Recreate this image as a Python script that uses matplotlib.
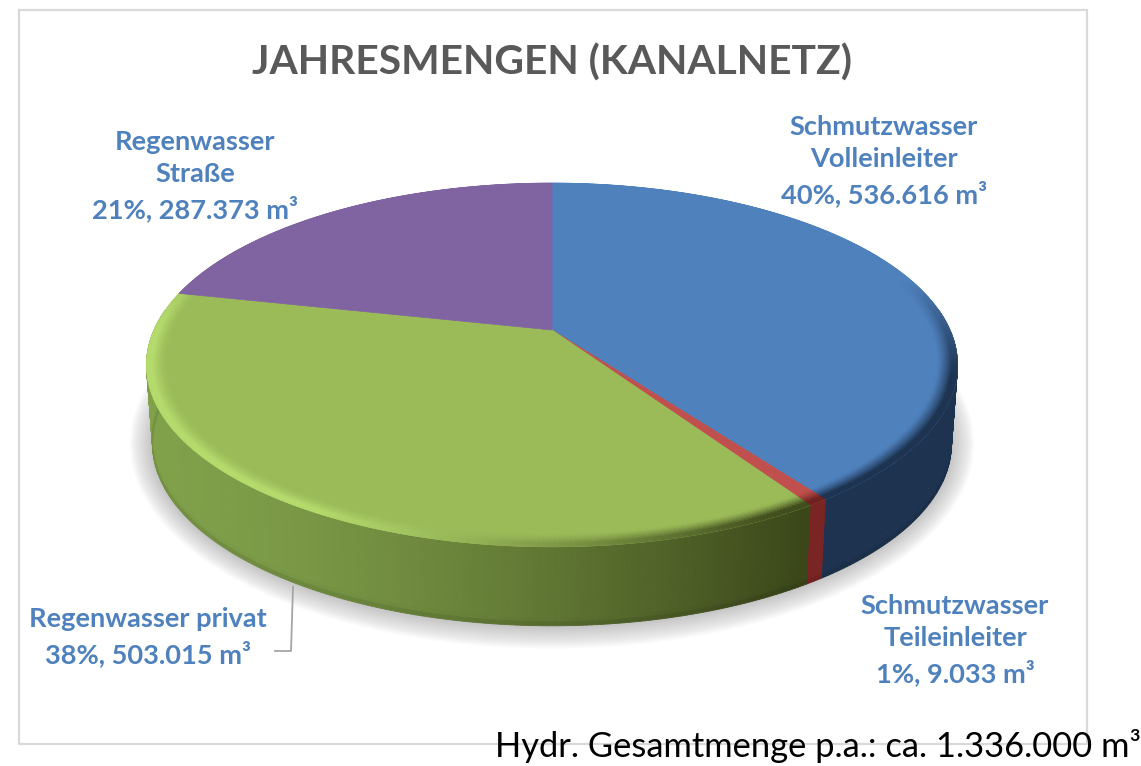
import numpy as np
import matplotlib
matplotlib.use("Agg")
import matplotlib.pyplot as plt
from matplotlib.collections import PolyCollection
from matplotlib.colors import to_rgb

title = "JAHRESMENGEN (KANALNETZ)"
categories = ["Schmutzwasser\nVolleinleiter", "Schmutzwasser\nTeileinleiter", "Regenwasser privat", "Regenwasser\nStraße"]
values = [536616, 9033, 503015, 287373]
value_labels = ["536.616", "9.033", "503.015", "287.373"]
percent_labels = ["40%", "1%", "38%", "21%"]
footer = "Hydr. Gesamtmenge p.a.: ca. 1.336.000 m³"

face_colors = ["#4f81bd", "#c0504d", "#9bbb59", "#8064a2"]
rim_left = ["#1d3350", "#6e2220", "#b6dc6e", "#8064a2"]
rim_right = ["#1d3350", "#6e2220", "#3f4c1c", "#8064a2"]
wall_left = ["#1d3350", "#8a2a28", "#80a04a", "#4a3a60"]
wall_right = ["#1d3350", "#7a2523", "#3b4719", "#4a3a60"]
label_color = "#4f81bd"
font = "Lato"

W, H = 1141, 766
fig = plt.figure(figsize=(W / 100, H / 100), dpi=100, facecolor="white")
ax = fig.add_axes([0, 0, 1, 1])
ax.set_xlim(0, W)
ax.set_ylim(H, 0)
ax.axis("off")

# perspective projection of the pie disc
CX, CY, K, A, C = 552.0, 330.0, 398.0, -111.8, 0.192
DEPTH, SHRINK = 79.0, 0.985


def top(r, th):
    u, v = r * np.sin(th), r * np.cos(th)
    w = 1 + C * v
    return CX + K * u / w, (A * v + CY) / w


def low(r, th, t=1.0):
    x, y = top(r, th)
    return CX + (x - CX) * (1 - (1 - SHRINK) * t), y + DEPTH * t


def mix(a, b, t):
    a, b = np.array(to_rgb(a)), np.array(to_rgb(b))
    return tuple(a + (b - a) * np.clip(t, 0, 1))


shares = np.array(values) / np.sum(values)
edges = np.concatenate([[0], np.cumsum(shares)]) * 2 * np.pi

# frame
ax.plot([18.5, 1087, 1087, 18.5, 18.5], [10, 10, 744, 744, 10], color="#d9d9d9", lw=1.6, zorder=1)

# soft shadow
ths = np.linspace(0, 2 * np.pi, 361)
for s in np.linspace(24, 1, 18):
    x, y = low(1.0, ths)
    px = CX + (x - CX) * (1 + s / 420)
    py = 365 + DEPTH + (y - 365 - DEPTH) * (1 + s / 190)
    ax.fill(px, py, color="#808080", alpha=0.026, lw=0, zorder=2)

# side wall
for i in range(len(values)):
    th = np.linspace(edges[i], edges[i + 1], max(3, int((edges[i + 1] - edges[i]) * 90)))
    polys, cols = [], []
    rows = np.linspace(0, 1, 21)
    for a, b in zip(th[:-1], th[1:]):
        xm = top(1.0, (a + b) / 2)[0]
        if np.cos((a + b) / 2) > 0.12:
            continue
        base = mix(wall_left[i], wall_right[i], ((xm - 160) / 640) ** 1.5 if xm > 160 else 0)
        for t0, t1 in zip(rows[:-1], rows[1:]):
            polys.append([low(1.0, a, t0), low(1.0, b, t0), low(1.0, b, t1), low(1.0, a, t1)])
            f = 0.90 + 0.10 * min(1, (1 - t1) / 0.06)
            cols.append(tuple(np.array(base) * f))
    ax.add_collection(PolyCollection(polys, facecolors=cols, edgecolors=cols, linewidths=0.6, zorder=3))

# top face
for i in range(len(values)):
    th = np.linspace(edges[i], edges[i + 1], max(3, int((edges[i + 1] - edges[i]) * 90)))
    x, y = top(1.0, th)
    ax.fill(np.r_[CX, x], np.r_[CY, y], color=face_colors[i], lw=0.5, zorder=4)
    # bevel along the rim
    radii = np.linspace(1.0, 0.95, 16)
    polys, cols = [], []
    for a, b in zip(th[:-1], th[1:]):
        m = (a + b) / 2
        xm = top(1.0, m)[0]
        limit = 0.55 if xm < CX else 0.30
        front = np.clip((limit - np.cos(m)) / 0.55, 0, 1)
        rim = mix(rim_left[i], rim_right[i], ((xm - 300) / 480) ** 1.2 if xm > 300 else 0)
        for r0, r1 in zip(radii[:-1], radii[1:]):
            rm = (r0 + r1) / 2
            f = np.clip((rm - 0.95) / 0.035, 0, 1) ** 1.3 * front
            polys.append([top(r0, a), top(r0, b), top(r1, b), top(r1, a)])
            cols.append(mix(face_colors[i], rim, f))
    ax.add_collection(PolyCollection(polys, facecolors=cols, edgecolors=cols, linewidths=0.4, zorder=5))

# leader line
ax.plot([293, 291, 275], [587, 651, 651], color="#a6a6a6", lw=1.3, zorder=6)

# labels
label_pos = [(884, 161), (955, 640), (148, 637), (195, 176)]
for name, pct, val, (lx, ly) in zip(categories, percent_labels, value_labels, label_pos):
    ax.text(lx, ly, f"{name}\n{pct}, {val} m³", ha="center", va="center", color=label_color,
            fontsize=19.6, fontweight="bold", family=font, linespacing=1.42, zorder=7)

ax.text(552, 63, title, ha="center", va="center", color="#595959", fontsize=29.3,
        fontweight="bold", family=font, zorder=7)
ax.text(495, 746, footer, ha="left", va="center", color="black", fontsize=24.8, family=font, zorder=8)

fig.savefig("out.png", dpi=100, facecolor="white")
